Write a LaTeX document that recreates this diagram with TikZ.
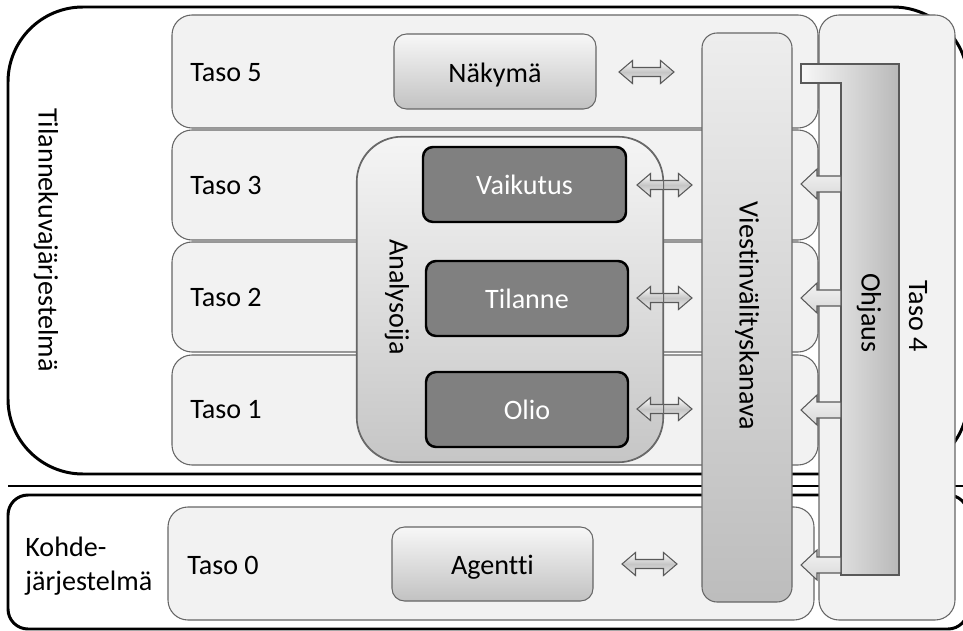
\documentclass[tikz,border=0pt]{standalone}
\usepackage{fontspec}
\setmainfont{Carlito}[Ligatures=NoCommon]
\usetikzlibrary{fit}

\tikzset{
  lbl/.style={font=\fontsize{16}{19}\selectfont, inner sep=0pt, text=black},
  wlbl/.style={lbl, text=white},
  sysframe/.style={draw=black, line width=1.7pt, fill=white, inner sep=0pt},
  sepline/.style={draw=black, line width=1.7pt},
  panel/.style={draw=black!60, line width=0.6pt, fill=gray!10, rounded corners=0.4cm, inner sep=0pt},
  anabox/.style={draw=black!60, line width=0.6pt, top color=gray!8, bottom color=gray!45,
                 rounded corners=0.9cm, inner sep=0pt},
  anaedge/.style={draw=black!60, line width=0.6pt, rounded corners=0.9cm},
  darkbox/.style={draw=black, line width=1.4pt, fill=gray, rounded corners=0.2cm, inner sep=0pt},
  lightbox/.style={draw=black!60, line width=0.6pt, top color=gray!6, bottom color=gray!48,
                   rounded corners=0.25cm, inner sep=0pt},
  chanbox/.style={draw=black!60, line width=0.6pt, top color=gray!14, bottom color=gray!52,
                  rounded corners=0.3cm, inner sep=0pt},
  ctrlbar/.style={draw=black!65, line width=0.6pt, left color=gray!6, right color=gray!55},
  dblfill/.style={draw=black!65, line width=0.6pt, top color=white, bottom color=gray!15, middle color=gray!45},
  ctrlfill/.style={draw=black!65, line width=0.6pt, top color=gray!10, bottom color=gray!30},
  dblarrow/.pic={\path[dblfill] (-27.5,0) -- (-14,-11.5) -- (-14,-4.5) -- (14,-4.5) -- (14,-11.5)
     -- (27.5,0) -- (14,11.5) -- (14,4.5) -- (-14,4.5) -- (-14,11.5) -- cycle;},
  ctrlarrow/.pic={\path[ctrlfill] (0,-8) -- (-24,-8) -- (-24,-15) -- (-40,0) -- (-24,15)
     -- (-24,8) -- (0,8) -- cycle;}
}

\begin{document}
\begin{tikzpicture}[x={(0.02cm,0)}, y={(0,-0.02cm)}]
\path[use as bounding box] (0,0) rectangle (963,631);
\clip (0,0) rectangle (963,631);

% the two systems and the line between them
\node[sysframe, rounded corners=1.5cm, fit={(8,7) (968,474)}] (sys) {};
\draw[sepline] (8,486) -- (963,486);
\node[sysframe, rounded corners=0.4cm, fit={(8,495) (968,629)}] (target) {};

% layer panels
\node[panel, fit={(172,15) (818,128)}] (p5) {};
\node[panel, fit={(172,130) (818,240)}] (p3) {};
\node[panel, fit={(172,242) (818,352)}] (p2) {};
\node[panel, fit={(172,355) (818,465)}] (p1) {};
\node[panel, fit={(168,507) (814,620)}] (p0) {};
\node[panel, fit={(819,15) (955,620)}] (p4) {};

% analyser group
\node[anabox, fit={(357,137) (663,462)}] (ana) {};
\node[darkbox, fit={(423,147) (626,222)}] (vai) {};
\node[darkbox, fit={(426,261) (628,336)}] (til) {};
\node[darkbox, fit={(426,372) (628,447)}] (oli) {};

% view and agent
\node[lightbox, fit={(394,34) (596,109)}] (nak) {};
\node[lightbox, fit={(392,527) (593,601)}] (age) {};

% message channel
\node[chanbox, fit={(702,33) (792,602)}] (vvk) {};

% control bar
\path[ctrlbar] (801,64) -- (899,64) -- (899,575) -- (841,575) -- (841,83) -- (801,83) -- cycle;
\pic at (841,184) {ctrlarrow};
\pic at (841,298) {ctrlarrow};
\pic at (841,410) {ctrlarrow};
\pic at (841,565) {ctrlarrow};

% two-way traffic to the channel
\pic at (646.5,72) {dblarrow};
\pic at (664.5,185) {dblarrow};
\pic at (664.5,298) {dblarrow};
\pic at (664.5,409) {dblarrow};
\pic at (649.5,564) {dblarrow};
\draw[anaedge] (ana.north west) rectangle (ana.south east);

% labels
\node[wlbl] (vail) at (vai.center) {Vaikutus};
\node[wlbl] (till) at (til.center) {Tilanne};
\node[wlbl] (olil) at (oli.center) {Olio};
\node[lbl, anchor=base] (nakl) at ([yshift=-6pt]nak.center) {Näkymä};
\node[lbl, anchor=base] (agel) at ([yshift=-6pt]age.center) {Agentti};
\node[lbl, rotate=-90] (sysl) at (46,240) {Tilannekuvajärjestelmä};
\node[lbl, anchor=west, align=left] (targl) at (25,566) {Kohde-\\järjestelmä};
\node[lbl, anchor=west] (l5) at (190,73) {Taso 5};
\node[lbl, anchor=west] (l3) at (190,185) {Taso 3};
\node[lbl, anchor=west] (l2) at (190,297) {Taso 2};
\node[lbl, anchor=west] (l1) at (190,410) {Taso 1};
\node[lbl, anchor=west] (l0) at (187,565) {Taso 0};
\node[lbl, rotate=-90] (l4) at (918,316) {Taso 4};
\node[lbl, rotate=-90] (anal) at (397,297) {Analysoija};
\node[lbl, rotate=-90] (vvkl) at (747,316) {Viestinvälityskanava};
\node[lbl, rotate=-90] (ohjl) at (869,313) {Ohjaus};
\end{tikzpicture}
\end{document}
